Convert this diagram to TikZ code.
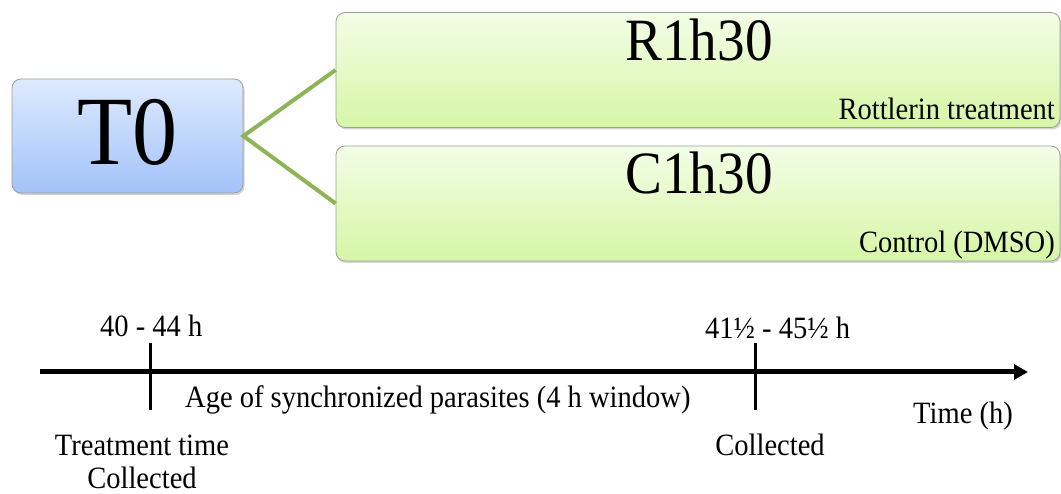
\documentclass[tikz,border=0pt]{standalone}
\usepackage{fontspec}
\setmainfont{Liberation Serif}[FakeStretch=0.92]
\usetikzlibrary{arrows.meta,shadows}
\definecolor{bluetop}{HTML}{DEEAFD}
\definecolor{bluebot}{HTML}{A3C2F9}
\definecolor{greentop}{HTML}{F3FDE6}
\definecolor{greenbot}{HTML}{D6F6A6}
\definecolor{linkgreen}{HTML}{8DB555}
\definecolor{boxedge}{HTML}{9A9F9A}
\begin{document}
\begin{tikzpicture}[x=1pt,y=-1pt,
  bluebox/.style={draw=boxedge,line width=0.8pt,rounded corners=9pt,top color=bluetop,bottom color=bluebot,
    minimum width=231pt,minimum height=114pt,inner sep=0pt,drop shadow={shadow xshift=1.5pt,shadow yshift=-2pt,opacity=0.35}},
  greenbox/.style={draw=boxedge,line width=0.8pt,rounded corners=9pt,top color=greentop,bottom color=greenbot,
    minimum width=724pt,minimum height=115pt,inner sep=0pt,drop shadow={shadow xshift=1.5pt,shadow yshift=-2pt,opacity=0.35}},
  link/.style={draw=linkgreen,line width=4pt},
  small/.style={font=\fontsize{31}{36}\selectfont,inner sep=0pt},
  mid/.style={font=\fontsize{60}{66}\selectfont,inner sep=0pt},
  axis/.style={line width=5pt,-{Triangle[length=14pt,width=15pt]}},
  tick/.style={line width=3pt}]
\useasboundingbox (0,0) rectangle (1061,494);
% boxes
\node[bluebox] (T0) at (127.5,136) {};
\node[greenbox] (R) at (698,70) {};
\node[greenbox] (C) at (698,203.5) {};
\draw[link] (R.west) -- (T0.east) -- (C.west);
% box texts
\node[anchor=base,inner sep=0pt,font=\fontsize{98}{100}\selectfont] (T0t) at (127.5,165) {T0};
\node[mid,anchor=base] (Rt) at (699,61) {R1h30};
\node[mid,anchor=base] (Ct) at (699,194) {C1h30};
\node[small,anchor=base east] (Rs) at (1055,120) {Rottlerin treatment};
\node[small,anchor=base east] (Cs) at (1055,253) {Control (DMSO)};
% timeline
\coordinate (a0) at (40,372);
\coordinate (a1) at (1028,372);
\draw[axis] (a0) -- (a1);
\coordinate (t1a) at (150,343);
\coordinate (t1b) at (150,410);
\coordinate (t2a) at (755,343);
\coordinate (t2b) at (755,410);
\draw[tick] (t1a) -- (t1b);
\draw[tick] (t2a) -- (t2b);
\node[small,anchor=base west] (l1) at (100,337) {40 - 44 h};
\node[small,anchor=base west] (l2) at (705,339) {41½ - 45½ h};
\node[small,anchor=base west] (l3) at (185,408) {Age of synchronized parasites (4 h window)};
\node[small,anchor=base west] (l4) at (913,424) {Time (h)};
\node[small,anchor=base] (l5) at (142,456) {Treatment time};
\node[small,anchor=base] (l6) at (142,488) {Collected};
\node[small,anchor=base] (l7) at (770,455) {Collected};
\end{tikzpicture}
\end{document}
